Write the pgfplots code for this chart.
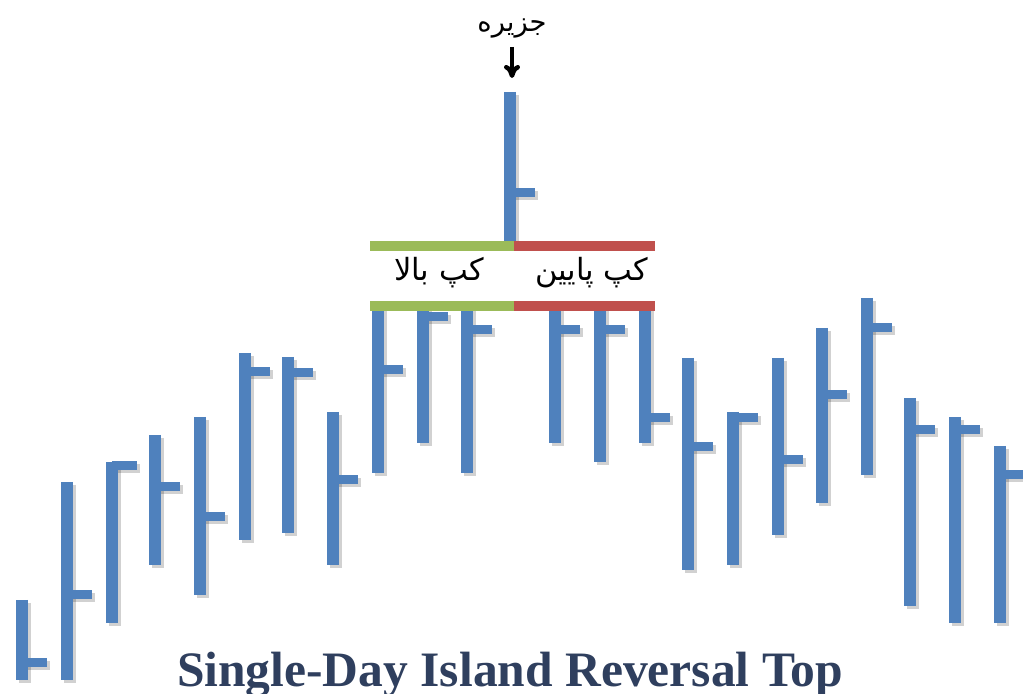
\documentclass[border=0pt]{standalone}
\usepackage{pgfplots}
\pgfplotsset{compat=1.18}
\usepackage{pgfplotstable}
\usepackage{fontspec}
\setmainfont{Liberation Serif}
\newfontfamily\arabicfont[Script=Arabic]{DejaVu Sans}
\TeXXeTstate=1
\usetikzlibrary{arrows.meta}
\definecolor{barblue}{HTML}{4F81BD}
\definecolor{gapgreen}{HTML}{9BBB59}
\definecolor{gapred}{HTML}{C0504D}
\definecolor{titleblue}{HTML}{2F3F5E}

% x = session position, h = high, l = low, c = close
\pgfplotstableread{
x h l c
22 94 14 31
67 212 14 99
112 232 71 228
155 259 129 207
200 277 99 177
245 341 154 322
288 337 161 321
333 282 129 214
378 389 221 324
423 389 251 377
467 389 221 364
510 602 453 501
555 389 251 364
600 389 232 364
645 389 251 276
688 336 124 247
733 282 129 276
778 336 159 234
822 366 191 299
867 396 219 366
910 296 88 264
955 277 71 264
1000 248 71 219
}\bars

\begin{document}
\begin{tikzpicture}
\useasboundingbox (0,0) rectangle (102.3mm,69.4mm);
\begin{axis}[
  at={(0,0)}, anchor=south west,
  scale only axis, width=102.3mm, height=69.4mm,
  xmin=0, xmax=1023, ymin=0, ymax=694,
  hide axis, clip=true,
]
% soft shadow
\addplot[draw=none, no markers, forget plot,
  error bars/.cd, y dir=minus, y explicit, error mark=none,
  error bar style={line width=1.2mm, draw=black, opacity=0.18}]
  table[x expr=\thisrow{x}+3, y expr=\thisrow{h}-3, y error expr=\thisrow{h}-\thisrow{l}] {\bars};
\addplot[draw=none, no markers, forget plot,
  error bars/.cd, x dir=plus, x fixed=25, error mark=none,
  error bar style={line width=0.9mm, draw=black, opacity=0.18}]
  table[x expr=\thisrow{x}+3, y expr=\thisrow{c}-3] {\bars};
% high-low bars
\addplot[draw=none, no markers,
  error bars/.cd, y dir=minus, y explicit, error mark=none,
  error bar style={line width=1.2mm, draw=barblue}]
  table[x=x, y=h, y error expr=\thisrow{h}-\thisrow{l}] {\bars};
% close ticks
\addplot[draw=none, no markers,
  error bars/.cd, x dir=plus, x fixed=25, error mark=none,
  error bar style={line width=0.9mm, draw=barblue}]
  table[x=x, y=c] {\bars};
% gap bands
\addplot[line width=1mm, gapgreen] coordinates {(370,448) (514,448)};
\addplot[line width=1mm, gapred] coordinates {(514,448) (655,448)};
\addplot[line width=1mm, gapgreen] coordinates {(370,388) (514,388)};
\addplot[line width=1mm, gapred] coordinates {(514,388) (655,388)};
% labels
\node[inner sep=0pt] at (axis cs:439,421) {\arabicfont\fontsize{8.7}{9}\selectfont\beginR کپ بالا\endR};
\node[inner sep=0pt] at (axis cs:592,421) {\arabicfont\fontsize{8.7}{9}\selectfont\beginR کپ پایین\endR};
\node[inner sep=0pt] at (axis cs:512,665) {\arabicfont\fontsize{7.8}{9}\selectfont\beginR جزیره\endR};
\draw[line width=0.45mm, -{To[length=1.3mm,width=1.6mm]}] (axis cs:512,647) -- (axis cs:512,616);
\node[anchor=base, inner sep=0pt, text=titleblue,
  font=\fontsize{14.1}{15}\bfseries\selectfont] at (axis cs:510,7) {Single-Day Island Reversal Top};
\end{axis}
\end{tikzpicture}
\end{document}
